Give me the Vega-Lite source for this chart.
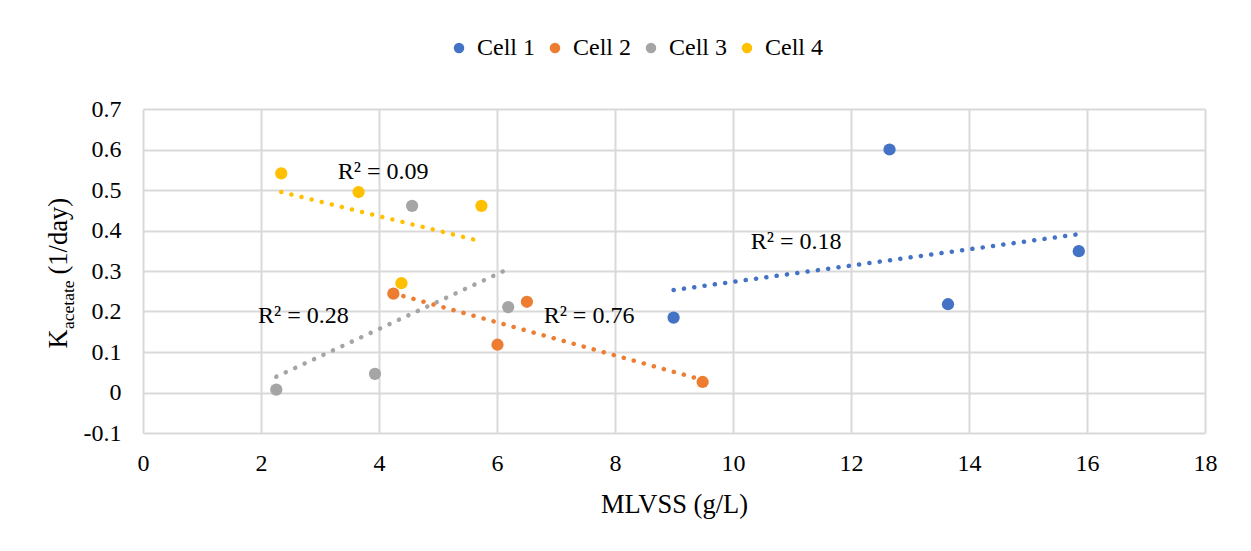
{
  "$schema": "https://vega.github.io/schema/vega-lite/v6.json",
  "width": 1062,
  "height": 324,
  "autosize": {"type": "none"},
  "padding": {"left": 143, "top": 109, "right": 46, "bottom": 118},
  "background": "white",
  "config": {
    "view": {"stroke": null},
    "font": "Liberation Serif",
    "style": {"guide-label": {"font": "Liberation Serif"}, "guide-title": {"font": "Liberation Serif"}},
    "axis": {"labelFont": "Liberation Serif", "titleFont": "Liberation Serif", "labelColor": "#000000", "titleColor": "#000000", "titleFontWeight": "normal"},
    "legend": {"labelFont": "Liberation Serif"}
  },
  "datasets": {
    "points": [
      {"cell": "Cell 1", "x": 8.993, "y": 0.185},
      {"cell": "Cell 1", "x": 12.653, "y": 0.600},
      {"cell": "Cell 1", "x": 13.644, "y": 0.218},
      {"cell": "Cell 1", "x": 15.861, "y": 0.349},
      {"cell": "Cell 2", "x": 4.244, "y": 0.244},
      {"cell": "Cell 2", "x": 6.008, "y": 0.118},
      {"cell": "Cell 2", "x": 6.507, "y": 0.224},
      {"cell": "Cell 2", "x": 9.485, "y": 0.026},
      {"cell": "Cell 3", "x": 2.259, "y": 0.007},
      {"cell": "Cell 3", "x": 3.932, "y": 0.046},
      {"cell": "Cell 3", "x": 4.561, "y": 0.461},
      {"cell": "Cell 3", "x": 6.190, "y": 0.211},
      {"cell": "Cell 4", "x": 2.343, "y": 0.541},
      {"cell": "Cell 4", "x": 3.654, "y": 0.495},
      {"cell": "Cell 4", "x": 5.736, "y": 0.461},
      {"cell": "Cell 4", "x": 4.380, "y": 0.270}
    ],
    "trend": [
      {"cell": "Cell 1", "x": 8.993, "y": 0.253},
      {"cell": "Cell 1", "x": 15.861, "y": 0.391},
      {"cell": "Cell 2", "x": 4.244, "y": 0.245},
      {"cell": "Cell 2", "x": 9.485, "y": 0.031},
      {"cell": "Cell 3", "x": 2.259, "y": 0.039},
      {"cell": "Cell 3", "x": 6.190, "y": 0.305},
      {"cell": "Cell 4", "x": 2.343, "y": 0.495},
      {"cell": "Cell 4", "x": 5.736, "y": 0.373}
    ],
    "labels": [
      {"x": 4.07, "y": 0.528, "text": "R² = 0.09"},
      {"x": 2.72, "y": 0.171, "text": "R² = 0.28"},
      {"x": 7.56, "y": 0.171, "text": "R² = 0.76"},
      {"x": 11.07, "y": 0.354, "text": "R² = 0.18"}
    ]
  },
  "layer": [
    {
      "data": {"name": "points"},
      "mark": {"type": "point", "filled": true, "opacity": 1, "size": 150, "shape": "circle"},
      "encoding": {
        "x": {"field": "x", "type": "quantitative",
          "scale": {"domain": [0, 18], "nice": false, "zero": false},
          "axis": {"orient": "bottom", "values": [0, 2, 4, 6, 8, 10, 12, 14, 16, 18], "grid": true, "gridColor": "#d9d9d9", "gridWidth": 2,
            "domain": false, "ticks": false, "labelPadding": 18, "labelFontSize": 24, "labelFlush": false,
            "title": "MLVSS (g/L)", "titleFontSize": 26.5, "titleY": 79, "titleBaseline": "alphabetic"}},
        "y": {"field": "y", "type": "quantitative",
          "scale": {"domain": [-0.1, 0.7], "nice": false, "zero": false},
          "axis": {"orient": "left", "values": [-0.1, 0, 0.1, 0.2, 0.3, 0.4, 0.5, 0.6, 0.7], "format": "~g",
            "labelExpr": "replace(datum.label, '\u2212', '-')", "grid": true, "gridColor": "#d9d9d9", "gridWidth": 2,
            "domain": false, "ticks": false, "labelPadding": 22, "labelFontSize": 24, "labelFlush": false,
            "title": "K", "titleFontSize": 26.5, "titleAngle": -90, "titleAlign": "left", "titleBaseline": "alphabetic", "titleX": -77, "titleY": 239}},
        "color": {"field": "cell", "type": "nominal",
          "scale": {"domain": ["Cell 1", "Cell 2", "Cell 3", "Cell 4"], "range": ["#4472C4", "#ED7D31", "#A5A5A5", "#FFC000"]},
          "legend": {"title": null, "orient": "none", "direction": "horizontal", "legendX": 304, "legendY": -73,
            "symbolType": "circle", "symbolSize": 110, "symbolStrokeWidth": 0, "labelFont": "Liberation Serif", "labelFontSize": 24, "labelOffset": 6,
            "columnPadding": 8, "labelColor": "#000000"}}
      }
    },
    {
      "data": {"name": "trend"},
      "mark": {"type": "line", "strokeWidth": 4.5, "strokeCap": "round", "strokeDash": [0.1, 10.3]},
      "encoding": {
        "x": {"field": "x", "type": "quantitative", "scale": {"domain": [0, 18], "nice": false, "zero": false}, "axis": null},
        "y": {"field": "y", "type": "quantitative", "scale": {"domain": [-0.1, 0.7], "nice": false, "zero": false},
          "axis": {"orient": "left", "labels": false, "ticks": false, "domain": false, "grid": false,
            "title": "acetate", "titleFontSize": 17.5, "titleAngle": -90, "titleAlign": "left", "titleBaseline": "alphabetic", "titleX": -70, "titleY": 219.5}},
        "color": {"field": "cell", "type": "nominal", "legend": null},
        "detail": {"field": "cell"}
      }
    },
    {
      "data": {"name": "labels"},
      "mark": {"type": "text", "font": "Liberation Serif", "fontSize": 24, "align": "center", "baseline": "alphabetic", "color": "#000000"},
      "encoding": {
        "x": {"field": "x", "type": "quantitative", "scale": {"domain": [0, 18], "nice": false, "zero": false}, "axis": null},
        "y": {"field": "y", "type": "quantitative", "scale": {"domain": [-0.1, 0.7], "nice": false, "zero": false},
          "axis": {"orient": "left", "labels": false, "ticks": false, "domain": false, "grid": false,
            "title": "(1/day)", "titleFontSize": 26.5, "titleAngle": -90, "titleAlign": "left", "titleBaseline": "alphabetic", "titleX": -77, "titleY": 165}},
        "text": {"field": "text"}
      }
    },
    {
      "mark": {"type": "rule", "color": "#bfbfbf", "strokeWidth": 3},
      "encoding": {
        "y": {"datum": 0, "type": "quantitative", "scale": {"domain": [-0.1, 0.7], "nice": false, "zero": false}, "axis": null}
      }
    }
  ],
  "resolve": {"axis": {"x": "independent", "y": "independent"}, "legend": {"color": "independent"}}
}
